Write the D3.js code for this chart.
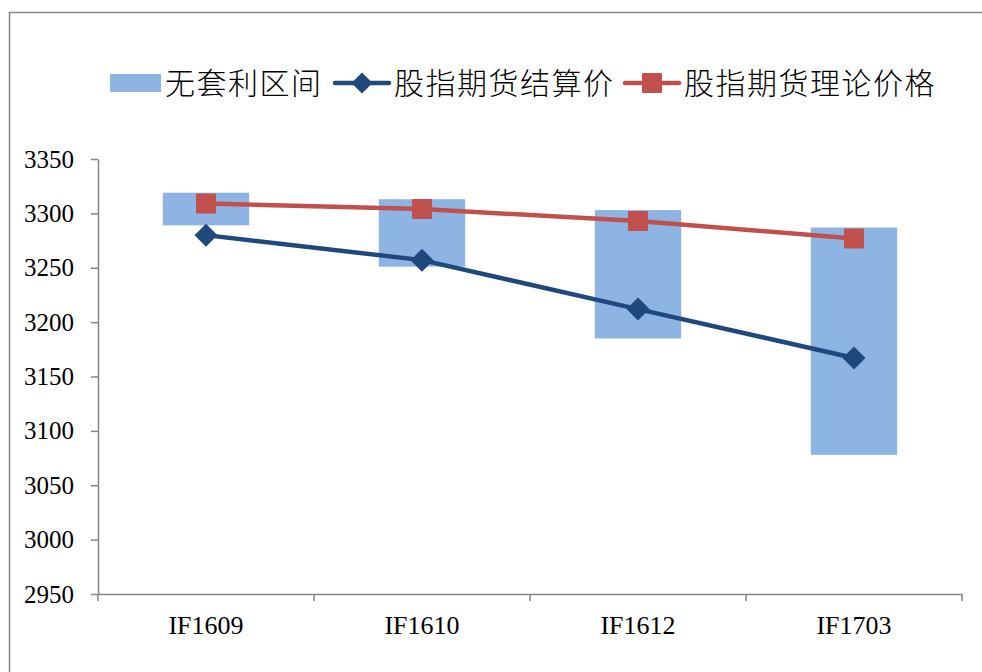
<!DOCTYPE html>
<html>
<head>
<meta charset="utf-8">
<script src="https://cdn.jsdelivr.net/npm/d3@7"></script>
<style>
  html, body { margin: 0; padding: 0; background: #fff; }
  svg { display: block; }
  .num text { font-family: 'Liberation Serif', 'Times New Roman', serif !important; }
</style>
</head>
<body>
<svg id="chart" width="982" height="672"></svg>
<script>
// Contracts on the category axis
const contracts = ["IF1609", "IF1610", "IF1612", "IF1703"];
// No-arbitrage band: upper and lower bounds
const bandUpper = [3319, 3313, 3303, 3287];
const bandLower = [3289, 3251, 3185, 3078];
// Index futures settlement price
const settlePrice = [3280, 3257, 3212, 3167];
// Index futures theoretical price
const theoPrice = [3309, 3304, 3293, 3277];
// Value axis ticks
const yTicks = [2950, 3000, 3050, 3100, 3150, 3200, 3250, 3300, 3350];
// Legend entries
const legendNames = ["无套利区间", "股指期货结算价", "股指期货理论价格"];

const svg = d3.select("#chart");
const axisColor = "#868686";
const barColor = "#8EB4E3";
const blue = "#1F497D";
const red = "#C0504D";
const serif = "'Liberation Serif', 'Times New Roman', serif";

// outer frame
svg.append("rect")
  .attr("x", 9.5).attr("y", 12.5)
  .attr("width", 1000).attr("height", 700)
  .attr("fill", "none").attr("stroke", axisColor).attr("stroke-width", 1.5);

const plot = { left: 98, right: 962, top: 159, bottom: 594 };

const x = d3.scaleBand().domain(contracts).range([plot.left, plot.right]).paddingInner(0).paddingOuter(0);
const y = d3.scaleLinear().domain([2950, 3350]).range([plot.bottom, plot.top]);

const barW = x.bandwidth() * 0.4;
const cx = d => x(d) + x.bandwidth() / 2;

// band bars
svg.append("g").selectAll("rect")
  .data(contracts)
  .join("rect")
  .attr("x", d => cx(d) - barW / 2)
  .attr("y", (d, i) => y(bandUpper[i]))
  .attr("width", barW)
  .attr("height", (d, i) => y(bandLower[i]) - y(bandUpper[i]))
  .attr("fill", barColor);

// y axis
const yAxis = svg.append("g")
  .attr("class", "num")
  .attr("transform", `translate(${plot.left},0)`)
  .call(d3.axisLeft(y).tickValues(yTicks).tickSize(7).tickSizeOuter(0).tickPadding(17).tickFormat(d3.format("d")))
  .attr("font-family", serif)
  .attr("font-size", 25);
yAxis.select(".domain").attr("stroke", axisColor).attr("stroke-width", 1.5);
yAxis.selectAll(".tick line").attr("stroke", axisColor).attr("stroke-width", 1.5);
yAxis.selectAll(".tick text").attr("fill", "#000");

// x axis
const xAxis = svg.append("g")
  .attr("class", "num")
  .attr("transform", `translate(0,${plot.bottom})`)
  .call(d3.axisBottom(x).tickSize(0).tickPadding(22))
  .attr("font-family", serif)
  .attr("font-size", 26);
xAxis.select(".domain").attr("stroke", axisColor).attr("stroke-width", 1.5);
xAxis.selectAll(".tick text").attr("fill", "#000");
// category boundary ticks
const bounds = contracts.map(d => x(d)).concat([x(contracts[contracts.length - 1]) + x.bandwidth()]);
svg.append("g").selectAll("line")
  .data(bounds)
  .join("line")
  .attr("x1", d => d).attr("x2", d => d)
  .attr("y1", plot.bottom).attr("y2", plot.bottom + 7)
  .attr("stroke", axisColor).attr("stroke-width", 1.5);

const line = d3.line().x((v, i) => cx(contracts[i])).y(v => y(v));

// settlement price line + diamonds
svg.append("path").datum(settlePrice)
  .attr("d", line).attr("fill", "none")
  .attr("stroke", blue).attr("stroke-width", 4.5).attr("stroke-linejoin", "round");
const diamond = s => `M0,${-s}L${s},0L0,${s}L${-s},0Z`;
svg.append("g").selectAll("path")
  .data(settlePrice)
  .join("path")
  .attr("transform", (v, i) => `translate(${cx(contracts[i])},${y(v)})`)
  .attr("d", diamond(11.5))
  .attr("fill", blue);

// theoretical price line + squares
svg.append("path").datum(theoPrice)
  .attr("d", line).attr("fill", "none")
  .attr("stroke", red).attr("stroke-width", 4.5).attr("stroke-linejoin", "round");
svg.append("g").selectAll("rect")
  .data(theoPrice)
  .join("rect")
  .attr("x", (v, i) => cx(contracts[i]) - 10)
  .attr("y", v => y(v) - 10)
  .attr("width", 20).attr("height", 20)
  .attr("rx", 1)
  .attr("fill", red);

// legend
const legendFont = "'Noto Sans CJK SC', 'Noto Sans', sans-serif";
const ly = 83;
const lg = svg.append("g");
const legendText = (xPos, str) => lg.append("text")
  .attr("x", xPos).attr("y", ly).attr("dy", "0.36em")
  .style("font-family", legendFont).style("font-size", "30px")
  .style("font-weight", 300).style("letter-spacing", "1.5px")
  .text(str);

lg.append("rect").attr("x", 110).attr("y", ly - 9).attr("width", 51).attr("height", 18).attr("fill", barColor);
legendText(165, legendNames[0]);

lg.append("line").attr("x1", 335).attr("x2", 389).attr("y1", ly).attr("y2", ly)
  .attr("stroke", blue).attr("stroke-width", 4.5).attr("stroke-linecap", "round");
lg.append("path").attr("transform", `translate(362,${ly})`).attr("d", diamond(10.5)).attr("fill", blue);
legendText(394, legendNames[1]);

lg.append("line").attr("x1", 625).attr("x2", 679).attr("y1", ly).attr("y2", ly)
  .attr("stroke", red).attr("stroke-width", 4.5).attr("stroke-linecap", "round");
lg.append("rect").attr("x", 642).attr("y", ly - 10).attr("width", 20).attr("height", 20).attr("rx", 1).attr("fill", red);
legendText(684, legendNames[2]);
</script>
</body>
</html>
